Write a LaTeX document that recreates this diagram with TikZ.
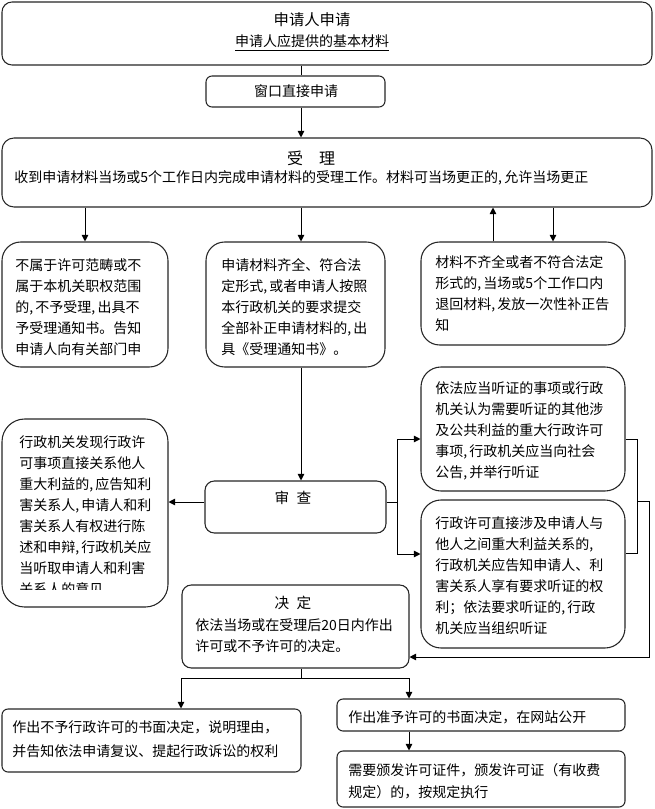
\documentclass[tikz,border=0pt]{standalone}
\usepackage{fontspec}
\setmainfont{Noto Sans CJK SC}
\usetikzlibrary{arrows.meta}
\newcommand\mkbox[6]{\node[box, minimum width={(#4-#2)*0.75pt}, minimum height={(#5-#3)*0.75pt}, rounded corners=#6] (#1) at ({(#2+#4)/2},{(#3+#5)/2}) {};}
\begin{document}
\begin{tikzpicture}[x=0.75pt,y=-0.75pt,
  box/.style={draw=black!85, line width=0.8pt, inner sep=0pt, fill=white},
  txt/.style={inner sep=0pt, font=\fontsize{10.5}{15.75}\selectfont, align=left, anchor=north west},
  one/.style={inner sep=0pt, font=\fontsize{10.5}{14}\selectfont},
  ttl/.style={inner sep=0pt, font=\fontsize{12}{14}\selectfont},
  ln/.style={draw=black, line width=0.75pt},
  arr/.style={ln, -{Triangle[length=5pt,width=5pt]}},
]
\useasboundingbox (0,0) rectangle (654,809);
% boxes
\mkbox{b1}{2}{2}{652}{65}{7.5pt}
\mkbox{b2}{206}{76}{385}{107}{4.5pt}
\mkbox{b3}{2}{138}{652}{207}{9pt}
\mkbox{b4}{2}{242}{168}{367}{14pt}
\mkbox{b5}{206}{242}{385}{367}{14pt}
\mkbox{b6}{421}{242}{625}{345}{14pt}
\mkbox{b7}{421}{367}{625}{491}{15pt}
\mkbox{b8}{421}{500}{625}{648}{15pt}
\mkbox{b9}{2}{419}{168}{607}{17pt}
\mkbox{b10}{205}{481}{386}{533}{7pt}
\mkbox{b11}{182}{585}{409}{668}{7pt}
\mkbox{b12}{2}{709}{301}{772}{4.5pt}
\mkbox{b13}{337}{699}{625}{731}{4.5pt}
\mkbox{b14}{337}{751}{625}{807}{4.5pt}
% texts
\node[ttl, font=\fontsize{11.5}{14}\selectfont] (t1a) at (312,20) {申请人申请};
\node[one] (t1b) at (312,43) {\underline{申请人应提供的基本材料}};
\node[one] (t2) at (296,91) {窗口直接申请};
\node[ttl] (t3a) at (311,158) {受\quad 理};
\node[one, anchor=west] (t3b) at (14,178) {收到申请材料当场或5个工作日内完成申请材料的受理工作。材料可当场更正的,\,允许当场更正};
\node[txt] (t4) at (15,258) {不属于许可范畴或不\\属于本机关职权范围\\的,\,不予受理,\,出具不\\予受理通知书。告知\\申请人向有关部门申};
\node[txt] (t5) at (221,258) {申请材料齐全、符合法\\定形式,\,或者申请人按照\\本行政机关的要求提交\\全部补正申请材料的,\,出\\具《受理通知书》。};
\node[txt] (t6) at (435,255) {材料不齐全或者不符合法定\\形式的,\,当场或5个工作口内\\退回材料,\,发放一次性补正告\\知};
\node[txt] (t7) at (435,381) {依法应当听证的事项或行政\\机关认为需要听证的其他涉\\及公共利益的重大行政许可\\事项,\,行政机关应当向社会\\公告,\,并举行听证};
\node[txt] (t8) at (435,516) {行政许可直接涉及申请人与\\他人之间重大利益关系的,\\行政机关应告知申请人、利\\害关系人享有要求听证的权\\利；依法要求听证的,\,行政\\机关应当组织听证};
\begin{scope}
\clip (4,421) rectangle (166,589);
\node[txt] (t9) at (19,435) {行政机关发现行政许\\可事项直接关系他人\\重大利益的,\,应告知利\\害关系人,\,申请人和利\\害关系人有权进行陈\\述和申辩,\,行政机关应\\当听取申请人和利害\\关系人的意见};
\end{scope}
\node[one, font=\fontsize{11}{14}\selectfont] (t10) at (293,498) {审\enspace 查};
\node[one, font=\fontsize{11}{14}\selectfont] (t11a) at (293,603) {决\enspace 定};
\node[txt] (t11b) at (195,618) {依法当场或在受理后20日内作出\\许可或不予许可的决定。};
\node[txt, font=\fontsize{10.5}{18.5}\selectfont] (t12) at (12,720) {作出不予行政许可的书面决定，说明理由，\\并告知依法申请复议、提起行政诉讼的权利};
\node[one, anchor=west] (t13) at (348,717) {作出准予许可的书面决定，在网站公开};
\node[txt, font=\fontsize{10.5}{16.5}\selectfont] (t14) at (348,763) {需要颁发许可证件，颁发许可证（有收费\\规定）的，按规定执行};
% connectors
\coordinate (cm) at (301,0);
\draw[ln] (cm |- b1.south) -- (cm |- b2.north);
\draw[arr] (cm |- b2.south) -- (cm |- b3.north);
\draw[arr] (b4.north |- b3.south) -- (b4.north);
\draw[arr] (cm |- b3.south) -- (cm |- b5.north);
\coordinate (cu) at (493,0);
\coordinate (cd) at (553,0);
\draw[arr] (cu |- b6.north) -- (cu |- b3.south);
\draw[arr] (cd |- b3.south) -- (cd |- b6.north);
\draw[arr] (cm |- b5.south) -- (cm |- b10.north);
\coordinate (ys) at (0,502);
\draw[arr] (b10.west |- ys) -- (b9.east |- ys);
\coordinate (jr) at (397,502);
\draw[ln] (b10.east |- ys) -- (jr);
\draw[arr] (jr) |- (b7.west |- 0,439);
\draw[arr] (jr) |- (b8.west |- 0,554);
\coordinate (jm) at (637,501);
\draw[ln] (b7.east |- 0,439) -| (637,553) -- (b8.east |- 0,553);
\draw[arr] (jm) -| (649,657) -- (b11.east |- 0,657);
\coordinate (jb) at (301,678);
\draw[ln] (cm |- b11.south) -- (jb);
\draw[arr] (jb) -| (181,0 |- b12.north);
\draw[arr] (jb) -| (409,0 |- b13.north);
\draw[arr] (409,0 |- b13.south) -- (409,0 |- b14.north);
\end{tikzpicture}
\end{document}
